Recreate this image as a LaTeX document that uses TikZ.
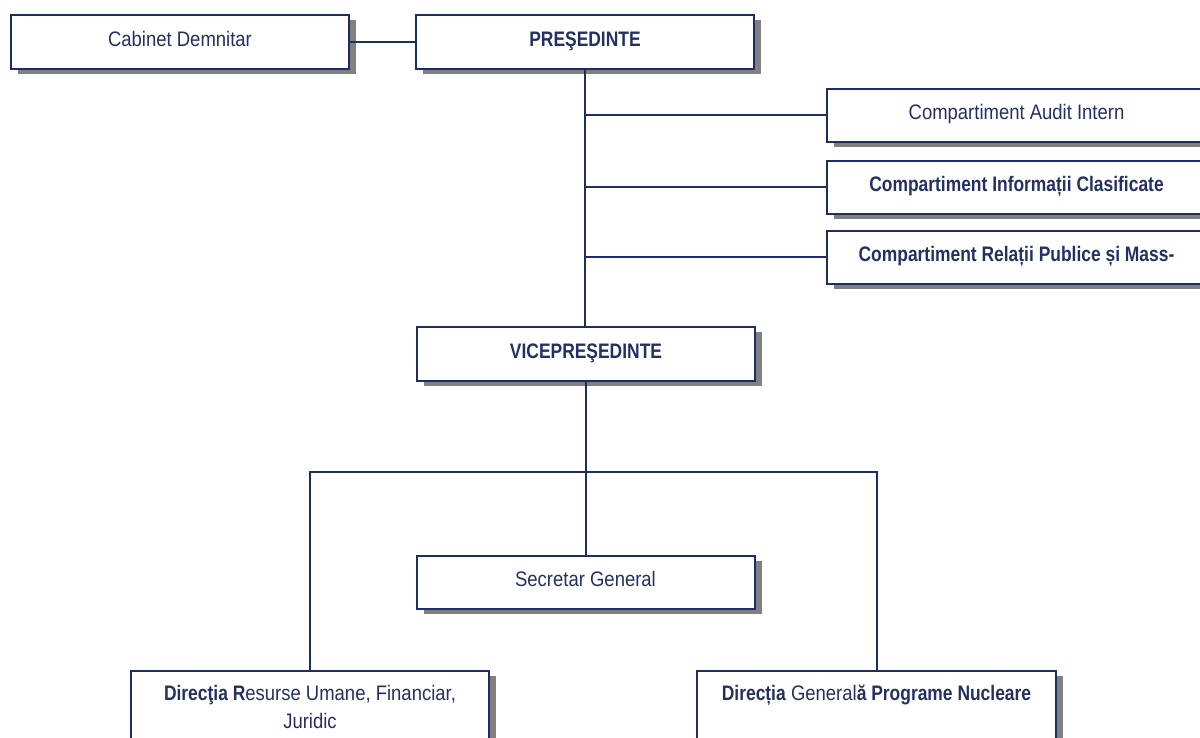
\documentclass[tikz,border=0pt]{standalone}
\usepackage{fontspec}
\setmainfont{Liberation Sans}[FakeStretch=0.88, BoldFeatures={FakeStretch=0.83}]
\usetikzlibrary{shadows}
\definecolor{navy}{RGB}{31,45,100}
\definecolor{txtc}{RGB}{36,48,98}
\definecolor{shadowc}{RGB}{128,128,128}
\tikzset{
  box/.style={draw=navy, line width=2pt, fill=white, rectangle, inner sep=0pt,
    text=txtc, font=\fontsize{21}{28}\selectfont, text height=12pt, text depth=3.4pt,
    drop shadow={shadow xshift=7pt, shadow yshift=-5pt, fill=shadowc, opacity=1}},
  txt/.style={inner sep=0pt, text=txtc, font=\fontsize{21}{28}\selectfont, align=center},
  conn/.style={draw=navy, line width=2pt}
}
\begin{document}
\begin{tikzpicture}[x=1pt,y=-1pt]
\useasboundingbox (0,0) rectangle (1200,738);
\clip (0,0) rectangle (1200,738);
\fill[white] (0,0) rectangle (1200,738);

\node[box, minimum width=338pt, minimum height=54pt] (cab) at (180,42) {Cabinet Demnitar};
\node[box, minimum width=338pt, minimum height=54pt] (pres) at (585,42) {\bfseries PREŞEDINTE};
\node[box, minimum width=379pt, minimum height=53pt] (audit) at (1016.5,115.5) {Compartiment Audit Intern};
\node[box, minimum width=379pt, minimum height=53pt] (info) at (1016.5,187.5) {\bfseries Compartiment Informații Clasificate};
\node[box, minimum width=379pt, minimum height=53pt] (rel) at (1016.5,257.5) {\bfseries Compartiment Relații Publice și Mass-};
\node[box, minimum width=338pt, minimum height=54pt] (vice) at (586,354) {\bfseries VICEPREŞEDINTE};
\node[box, minimum width=338pt, minimum height=53pt] (sec) at (585.5,582.5) {Secretar General};
\node[box, minimum width=358pt, minimum height=90pt] (dru) at (310,716) {};
\node[box, minimum width=359pt, minimum height=90pt] (dgpn) at (876.5,716) {};

\node[txt, anchor=north] (drut) at (310,685) {\textbf{Direcţia R}esurse Umane, Financiar,\\Juridic};
\node[txt, anchor=base] (dgpnt) at (876.5,700) {\textbf{Direcția} General\textbf{ă Programe Nucleare}};

\draw[conn] (cab.east) -- (pres.west);
\draw[conn] (pres.south) -- (pres.south |- vice.north);
\draw[conn] (pres.south |- audit.west) -- (audit.west);
\draw[conn] (pres.south |- info.west) -- (info.west);
\draw[conn] (pres.south |- rel.west) -- (rel.west);
\draw[conn] (vice.south) -- (vice.south |- sec.north);
\coordinate (bar) at (585,472);
\draw[conn] (dru.north) -- (dru.north |- bar) -- (dgpn.north |- bar) -- (dgpn.north);
\end{tikzpicture}
\end{document}
